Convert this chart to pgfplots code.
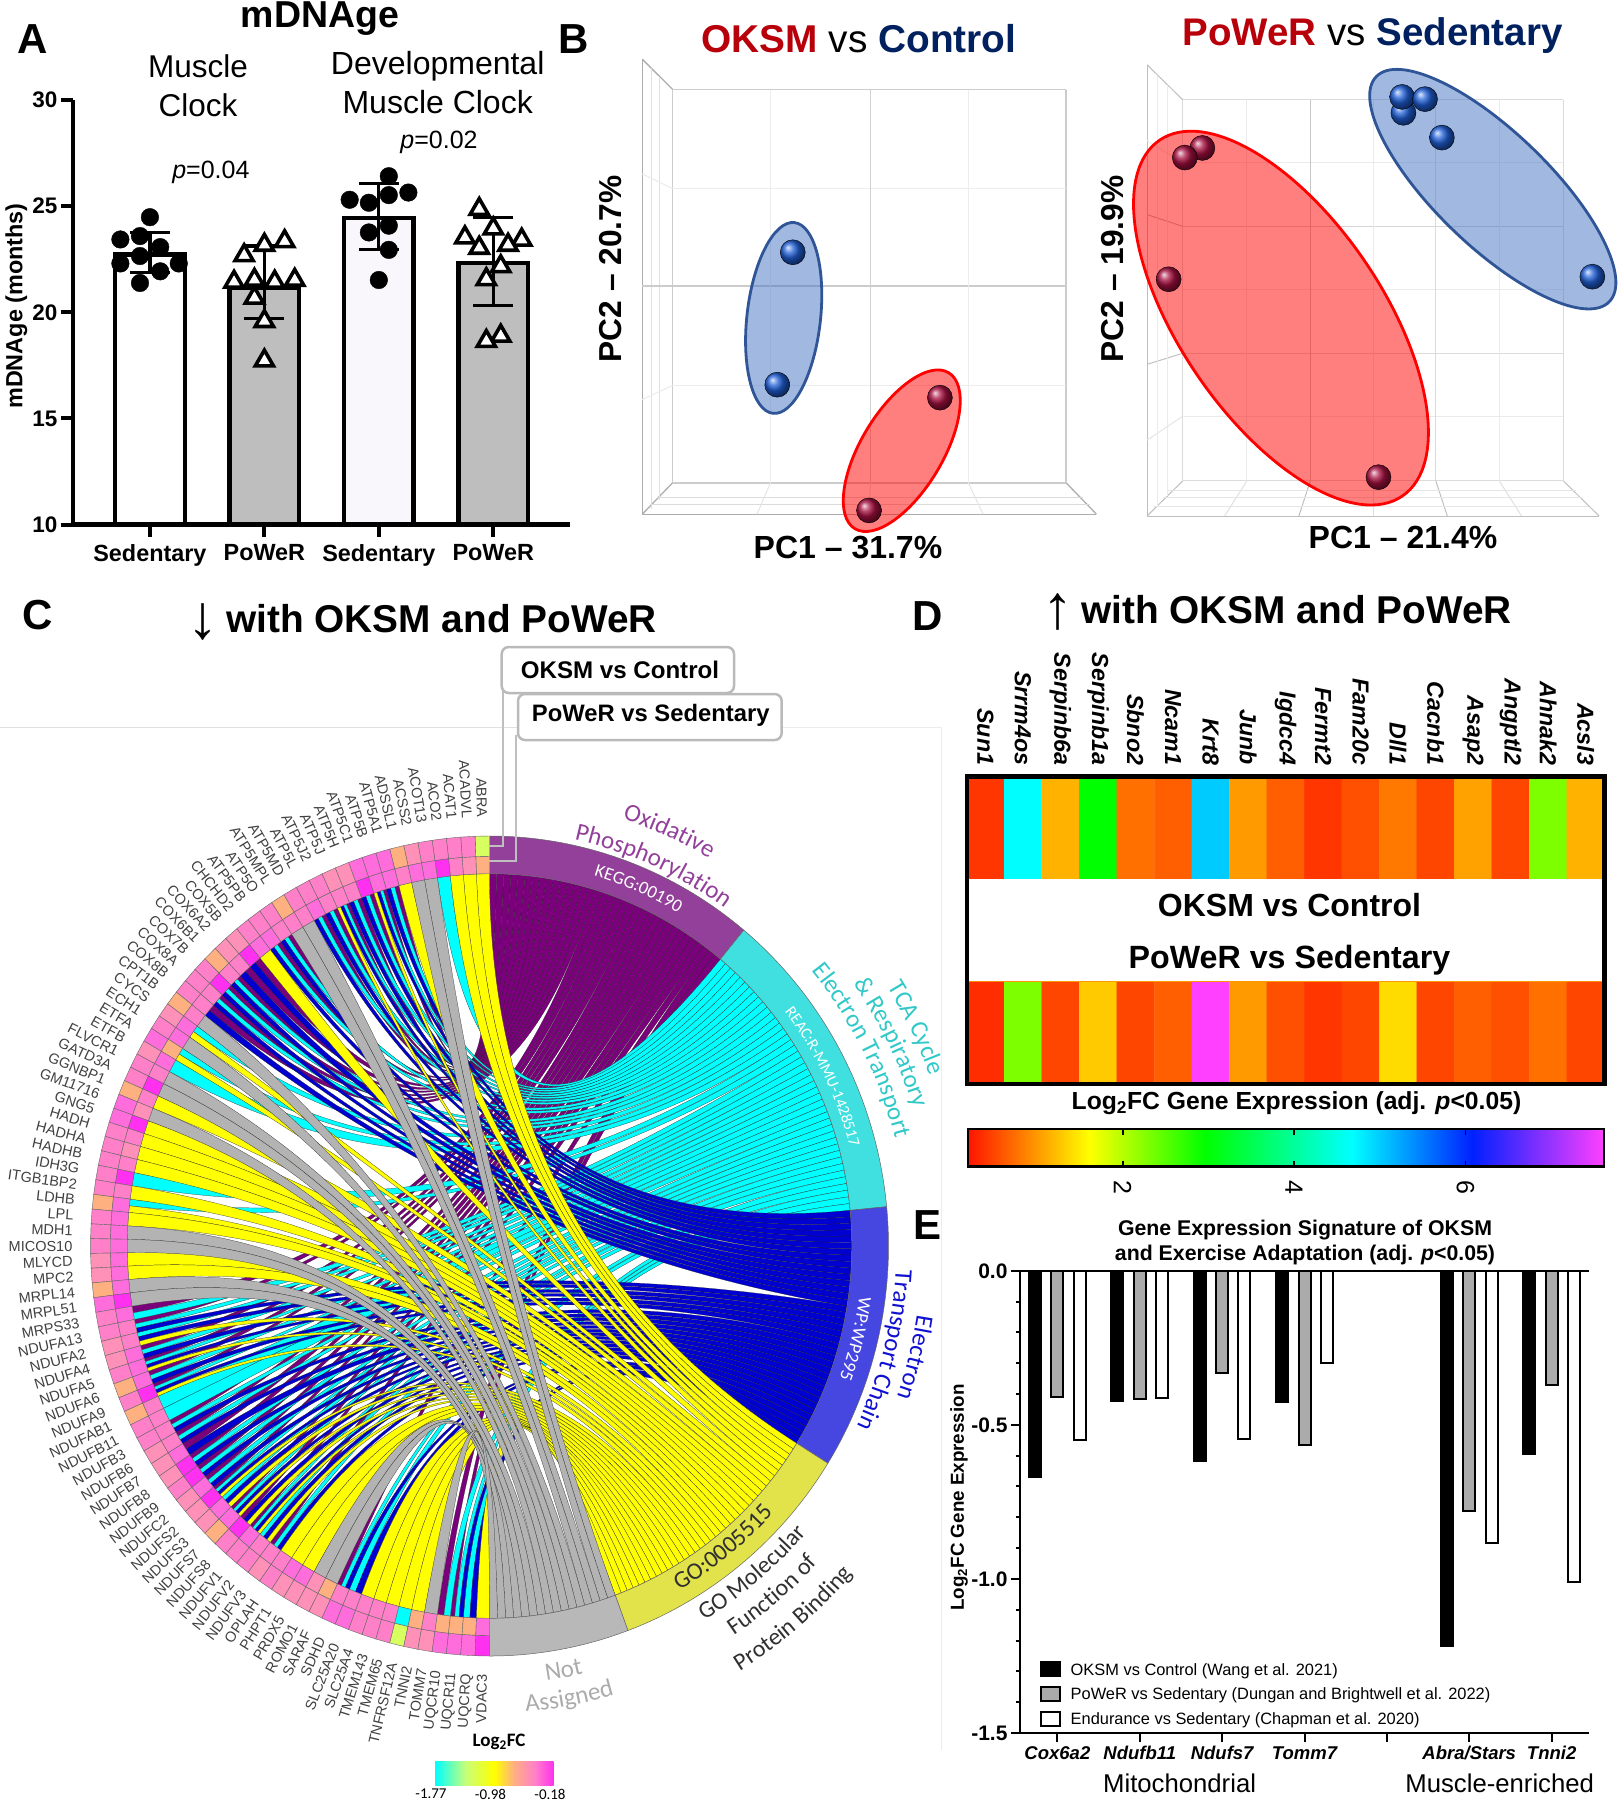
\documentclass[border=0pt]{standalone}
\usepackage{pgfplots}
\pgfplotsset{compat=1.18}
\usepackage{fontspec}
\usetikzlibrary{decorations.text,shadings,plotmarks}
\setmainfont{Liberation Sans}
\newfontfamily\calibri{Carlito}
\newcommand\fs[1]{\fontsize{#1}{#1}\selectfont}
% colours
\definecolor{cp}{HTML}{FF80C8}\definecolor{cs}{HTML}{FF90B8}\definecolor{co}{HTML}{FFB080}
\definecolor{cm}{HTML}{FF30F0}\definecolor{ch}{HTML}{FF6CDC}\definecolor{cy}{HTML}{D8FF60}\definecolor{cc}{HTML}{00FFFF}
\definecolor{ribO}{HTML}{7B007B}\definecolor{ribT}{HTML}{00FFFF}\definecolor{ribE}{HTML}{0000D0}\definecolor{ribG}{HTML}{FFFF00}\definecolor{ribN}{HTML}{B3B3B3}
\definecolor{secO}{HTML}{93409A}\definecolor{secT}{HTML}{40E0E0}\definecolor{secE}{HTML}{4646E0}\definecolor{secG}{HTML}{E2E24A}\definecolor{secN}{HTML}{B8B8B8}
\definecolor{txO}{HTML}{93409A}\definecolor{txT}{HTML}{30C8C8}\definecolor{txE}{HTML}{1010D0}\definecolor{txN}{HTML}{ABABAB}\definecolor{txG}{HTML}{303030}
\definecolor{redt}{HTML}{B8000A}\definecolor{navy}{HTML}{002060}
\definecolor{sphb}{HTML}{2060D8}\definecolor{sphr}{HTML}{A81040}
\definecolor{ellb}{HTML}{4472C4}\definecolor{ellbd}{HTML}{2F5597}
\definecolor{barg}{HTML}{BEBEBE}\definecolor{barv}{HTML}{F9F7FB}
\definecolor{rb0}{RGB}{255,20,0}\definecolor{rb1}{RGB}{255,255,0}\definecolor{rb2}{RGB}{0,255,0}\definecolor{rb3}{RGB}{0,255,255}\definecolor{rb4}{RGB}{0,32,255}\definecolor{rb5}{RGB}{255,64,255}
\pgfdeclarehorizontalshading{rbbar}{100bp}{color(0bp)=(rb0);color(25bp)=(rb0);color(34.53bp)=(rb1);color(43.64bp)=(rb2);color(55.2bp)=(rb3);color(64.66bp)=(rb4);color(75bp)=(rb5);color(100bp)=(rb5)}
\definecolor{lg1}{RGB}{255,255,0}\definecolor{lg2}{RGB}{255,176,128}\definecolor{lg3}{RGB}{255,128,200}\definecolor{lg4}{RGB}{200,255,120}
\pgfdeclarehorizontalshading{fcbar}{100bp}{color(0bp)=(cc);color(25bp)=(cc);color(38bp)=(lg4);color(50bp)=(lg1);color(58bp)=(lg2);color(67bp)=(lg3);color(75bp)=(cm);color(100bp)=(cm)}
\pgfplotsset{colormap={rb}{rgb255(0pt)=(255,20,0);rgb255(272pt)=(255,255,0);rgb255(532pt)=(0,255,0);rgb255(862pt)=(0,255,255);rgb255(1132pt)=(0,32,255);rgb255(1427pt)=(255,64,255)}}
% chord geometry
\def\cx{489.5}\def\cy{1246}\def\RX{362.3}\def\RY{372.3}\def\dd{2.06897}
\def\startO{0}\def\endO{39.6}\def\startT{39.6}\def\endT{84.5}\def\startE{84.5}\def\endE{122}\def\startG{122}\def\endG{159.7}\def\startN{159.7}\def\endN{180}
% gene / term membership / outer tile / inner tile
\def\genes{ABRA/G/y/o,ACADVL/G/p/s,ACAT1/G/p/p,ACO2/T/p/m,ACOT13/N/p/h,ACSS2/N/s/h,ADSSL1/G/o/p,
ATP5A1/{O,T,E}/h/h,ATP5B/{O,T,E,G}/h/h,ATP5C1/{O,T,E}/h/m,ATP5H/{O,T,E}/s/p,ATP5J/{O,T,E,G}/s/p,ATP5J2/{O,T,E}/p/p,ATP5L/{O,T,E}/p/h,
ATP5MD/N/p/p,ATP5MPL/N/o/p,ATP5O/{O,T,E}/p/p,ATP5PB/{O,T,E}/p/h,CHCHD2/G/p/h,COX5B/{O,E}/s/m,COX6A2/{O,E}/s/p,COX6B1/{O,T,E}/o/p,COX7B/{O,T,E}/p/m,COX8A/{O,T,E}/p/p,COX8B/{O,E}/p/p,
CPT1B/N/o/p,CYCS/{T,G}/s/h,ECH1/N/p/h,ETFA/{T,G}/h/o,ETFB/T/s/h,FLVCR1/N/p/p,GATD3A/N/p/m,GGNBP1/G/o/p,GM11716/N/h/s,GNG5/G/h/m,HADH/G/p/p,HADHA/G/p/s,HADHB/G/p/p,IDH3G/T/p/m,ITGB1BP2/G/p/p,LDHB/{T,G}/o/h,LPL/G/p/h,MDH1/N/p/h,MICOS10/N/p/h,MLYCD/G/s/h,MPC2/G/s/h,MRPL14/N/o/h,MRPL51/N/h/m,
MRPS33/{O,T}/p/h,NDUFA13/{O,T,E}/p/p,NDUFA2/{T,E,G}/s/p,NDUFA4/{O,T,E}/s/h,NDUFA5/{O,T,E,G}/p/h,NDUFA6/{O,T,E}/o/h,NDUFA9/{O,T,E,G}/p/m,NDUFAB1/T/o/p,NDUFB11/T/p/p,NDUFB3/{O,T,E}/p/p,NDUFB6/{O,T,E}/s/p,NDUFB7/{O,E}/s/h,NDUFB8/{O,T,E}/s/m,NDUFB9/{O,T,E}/p/m,NDUFC2/{O,T,E}/s/h,NDUFS2/{O,T,E,G}/s/m,NDUFS3/{T,E,G}/s/h,NDUFS7/{O,T,E,G}/o/h,NDUFS8/{O,E,G}/p/m,NDUFV1/{O,T,E,G}/p/h,NDUFV2/{T,E,G}/p/p,NDUFV3/{O,T,E}/s/p,
OPLAH/G/p/p,PHPT1/G/s/h,PRDX5/G/s/h,ROMO1/N/s/s,SARAF/N/s/o,SDHD/{O,T,E}/h/p,SLC25A20/{T,E}/h/p,SLC25A4/G/p/p,TMEM143/G/p/p,TMEM65/G/p/p,TNFRSF12A/G/y/c,TNNI2/G/s/o,TOMM7/N/s/p,UQCR10/{O,T}/h/o,UQCR11/{O,T,E}/h/o,UQCRQ/{T,E}/h/o,VDAC3/G/m/h}
\newcount\cntO\newcount\cntT\newcount\cntE\newcount\cntG\newcount\cntN
\newcount\posO\newcount\posT\newcount\posE\newcount\posG\newcount\posN
\newcount\gi\newcount\nn\newcount\kk
\let\rib\relax
\def\ribO{}\def\ribT{}\def\ribE{}\def\ribG{}\def\ribN{}
\foreach \g/\t/\a/\b in \genes {\foreach \x in \t {\global\advance\csname cnt\x\endcsname by 1\relax}}
\foreach \g/\t/\a/\b in \genes {%
  \global\advance\gi by 1\relax
  \global\nn=0\relax
  \foreach \x in \t {\global\advance\nn by 1\relax}%
  \global\kk=0\relax
  \foreach \x in \t {%
    \global\advance\kk by 1\relax
    \pgfmathsetmacro\aone{(\the\gi-1+(\the\kk-1)/\the\nn)*\dd}%
    \pgfmathsetmacro\atwo{(\the\gi-1+\the\kk/\the\nn)*\dd}%
    \edef\ss{\csname start\x\endcsname}\edef\ee{\csname end\x\endcsname}%
    \pgfmathsetmacro\bone{\ss+(\ee-\ss)*\the\csname pos\x\endcsname/\the\csname cnt\x\endcsname}%
    \global\advance\csname pos\x\endcsname by 1\relax
    \pgfmathsetmacro\btwo{\ss+(\ee-\ss)*\the\csname pos\x\endcsname/\the\csname cnt\x\endcsname}%
    \expandafter\xdef\csname rib\x\endcsname{\csname rib\x\endcsname\rib{\aone}{\atwo}{\bone}{\btwo}}%
  }%
}
\newcommand\ribdef{%
\def\rib##1##2##3##4{%
 \pgfmathsetmacro\xa{\cx-\RX*sin(##1)}\pgfmathsetmacro\ya{\cy-\RY*cos(##1)}%
 \pgfmathsetmacro\xb{\cx-\RX*sin(##2)}\pgfmathsetmacro\yb{\cy-\RY*cos(##2)}%
 \pgfmathsetmacro\xc{\cx+\RX*sin(##3)}\pgfmathsetmacro\yc{\cy-\RY*cos(##3)}%
 \pgfmathsetmacro\xd{\cx+\RX*sin(##4)}\pgfmathsetmacro\yd{\cy-\RY*cos(##4)}%
 \pgfmathsetmacro\xac{\cx+(\xa-\cx)/3}\pgfmathsetmacro\yac{\cy+(\ya-\cy)/3}%
 \pgfmathsetmacro\xbc{\cx+(\xb-\cx)/3}\pgfmathsetmacro\ybc{\cy+(\yb-\cy)/3}%
 \pgfmathsetmacro\xcc{\cx+(\xc-\cx)/3}\pgfmathsetmacro\ycc{\cy+(\yc-\cy)/3}%
 \pgfmathsetmacro\xdc{\cx+(\xd-\cx)/3}\pgfmathsetmacro\ydc{\cy+(\yd-\cy)/3}%
 \edef\tmp{\noexpand\path[fill=\ribcol,draw=black!85,line width=.22pt] (axis cs:\xa,\ya) .. controls (axis cs:\xac,\yac) and (axis cs:\xcc,\ycc) .. (axis cs:\xc,\yc) -- (axis cs:\xd,\yd) .. controls (axis cs:\xdc,\ydc) and (axis cs:\xbc,\ybc) .. (axis cs:\xb,\yb) -- cycle;}\tmp}}
\newcommand\tile[5]{%
 \pgfmathsetmacro\xa{\cx-399*#3*sin(#1)}\pgfmathsetmacro\ya{\cy-410*#3*cos(#1)}%
 \pgfmathsetmacro\xb{\cx-399*#3*sin(#2)}\pgfmathsetmacro\yb{\cy-410*#3*cos(#2)}%
 \pgfmathsetmacro\xc{\cx-399*#4*sin(#2)}\pgfmathsetmacro\yc{\cy-410*#4*cos(#2)}%
 \pgfmathsetmacro\xd{\cx-399*#4*sin(#1)}\pgfmathsetmacro\yd{\cy-410*#4*cos(#1)}%
 \edef\tmp{\noexpand\path[fill=#5,draw=black!60,line width=.4pt] (axis cs:\xa,\ya) -- (axis cs:\xb,\yb) -- (axis cs:\xc,\yc) -- (axis cs:\xd,\yd) -- cycle;}\tmp}
\newcommand\sector[3]{%
 \pgfmathsetmacro\xa{\cx+399*sin(#1)}\pgfmathsetmacro\ya{\cy-410*cos(#1)}%
 \pgfmathsetmacro\xb{\cx+\RX*sin(#2)}\pgfmathsetmacro\yb{\cy-\RY*cos(#2)}%
 \pgfmathsetmacro\sa{90-#1}\pgfmathsetmacro\sb{90-#2}%
 \edef\tmp{\noexpand\path[fill=#3,draw=black!60,line width=.5pt] (axis cs:\xa,\ya) arc[start angle=\sa,end angle=\sb,x radius=399pt,y radius=410pt] -- (axis cs:\xb,\yb) arc[start angle=\sb,end angle=\sa,x radius=\RX pt,y radius=\RY pt] -- cycle;}\tmp}
% text on arcs: #1 theta, #2 r, #3 size, #4 colour, #5 text
\newcommand\cwtext[5]{%
 \pgfmathsetmacro\th{#1-55}\pgfmathsetmacro\xa{\cx+399*#2*sin(\th)}\pgfmathsetmacro\ya{\cy-410*#2*cos(\th)}%
 \pgfmathsetmacro\sa{90-#1+55}\pgfmathsetmacro\sb{90-#1-55}\pgfmathsetmacro\rx{399*#2}\pgfmathsetmacro\ry{410*#2}%
 \edef\tmp{\noexpand\path[decorate,decoration={text along path,text align=center,text color=#4,text={\unexpanded{|\calibri\fontsize{#3}{#3}\selectfont|#5}}}] (axis cs:\xa,\ya) arc[start angle=\sa,end angle=\sb,x radius=\rx pt,y radius=\ry pt];}\tmp}
\newcommand\ccwtext[5]{%
 \pgfmathsetmacro\th{#1+30}\pgfmathsetmacro\xa{\cx+399*#2*sin(\th)}\pgfmathsetmacro\ya{\cy-410*#2*cos(\th)}%
 \pgfmathsetmacro\sa{90-#1-30}\pgfmathsetmacro\sb{90-#1+30}\pgfmathsetmacro\rx{399*#2}\pgfmathsetmacro\ry{410*#2}%
 \edef\tmp{\noexpand\path[decorate,decoration={text along path,text align=center,text color=#4,text={\unexpanded{|\calibri\fontsize{#3}{#3}\selectfont|#5}}}] (axis cs:\xa,\ya) arc[start angle=\sa,end angle=\sb,x radius=\rx pt,y radius=\ry pt];}\tmp}
\newcommand\seg[5]{\addplot[#1,forget plot] coordinates {(#2,#3)(#4,#5)};}
\begin{document}
\begin{tikzpicture}[x=1pt,y=1pt]
\path[use as bounding box] (0,0) rectangle (1618pt,1800pt);
% ---------- A
\begin{axis}[at={(73pt,1275.4pt)},anchor=south west,width=497pt,height=424.6pt,scale only axis,
 xmin=-0.672,xmax=3.67,ymin=10,ymax=30,axis x line*=bottom,axis y line*=left,
 axis line style={line width=4.4pt,-},tick style={black,line width=4pt},major tick length=12pt,tick align=outside,
 xtick={0,1,2,3},xticklabels={Sedentary,PoWeR,Sedentary,PoWeR},ytick={10,15,20,25,30},yticklabels={10,15,20,25,30},
 x tick label style={font=\fs{23.4}\bfseries},y tick label style={font=\fs{22.5}\bfseries},xticklabel shift=4pt]
\pgfplotsset{/pgfplots/error bars/error bar style={line width=3.2pt,black},/pgfplots/error bars/error mark options={rotate=90,mark size=20pt,line width=3.2pt,black}}
\addplot[ybar,bar width=69.6pt,bar shift=0pt,fill=white,draw=black,line width=4.4pt,error bars/.cd,y dir=both,y explicit] coordinates {(0,22.73) +=(0,1.03) -=(0,0.87)};
\addplot[ybar,bar width=69.6pt,bar shift=0pt,fill=barg,draw=black,line width=4.4pt,error bars/.cd,y dir=both,y explicit] coordinates {(1,21.15) +=(0,1.97) -=(0,1.43)};
\addplot[ybar,bar width=69.6pt,bar shift=0pt,fill=barv,draw=black,line width=4.4pt,error bars/.cd,y dir=both,y explicit] coordinates {(2,24.43) +=(0,1.62) -=(0,1.49)};
\addplot[ybar,bar width=69.6pt,bar shift=0pt,fill=barg,draw=black,line width=4.4pt,error bars/.cd,y dir=both,y explicit] coordinates {(3,22.33) +=(0,2.15) -=(0,2.02)};
\addplot[only marks,mark=*,mark size=8.8pt,black] coordinates {(0,24.48)(-0.258,23.43)(-0.087,23.59)(0.09,23.07)(-0.087,22.65)(-0.258,22.30)(0.252,22.30)(0.09,21.93)(-0.087,21.38)};
\addplot[only marks,mark=triangle*,mark size=10.5pt,mark options={fill=white,draw=black,line width=3.6pt}] coordinates {(1.177,23.34)(1,23.17)(0.823,22.68)(0.735,21.43)(0.913,21.52)(1.09,21.43)(1.265,21.52)(0.913,20.68)(1,19.58)(1,17.72)};
\addplot[only marks,mark=*,mark size=8.8pt,black] coordinates {(2.087,26.41)(2.258,25.64)(2.087,25.52)(1.745,25.30)(1.913,25.16)(2.087,24.08)(1.913,23.76)(2.087,22.94)(2,21.52)};
\addplot[only marks,mark=triangle*,mark size=10.5pt,mark options={fill=white,draw=black,line width=3.6pt}] coordinates {(2.877,24.86)(3,23.94)(2.752,23.52)(3.248,23.41)(2.877,23.03)(3.129,23.17)(3.065,22.16)(2.939,21.55)(3.065,18.89)(2.939,18.64)};
\end{axis}
% ---------- B grids and ellipses (coordinates of a 1568 x 1568 frame on the crop)
\begin{axis}[at={(560pt,1220pt)},anchor=south west,width=1058pt,height=580pt,scale only axis,xmin=0,xmax=1568,ymin=0,ymax=1568,y dir=reverse,hide axis,clip=false]
\seg{black!32,line width=1.3pt}{122}{160}{122}{1390}\seg{black!32,line width=1.3pt}{122}{160}{167}{242}
\seg{black!32,line width=1.3pt}{122}{1390}{795}{1390}\seg{black!32,line width=1.3pt}{122}{1390}{167}{1305}\seg{black!32,line width=1.3pt}{750}{1305}{795}{1390}
\seg{black!20,line width=1.6pt}{167}{242}{750}{242}\seg{black!20,line width=1.6pt}{750}{242}{750}{1305}\seg{black!20,line width=1.6pt}{167}{1305}{750}{1305}\seg{black!20,line width=1.6pt}{167}{242}{167}{1305}
\seg{black!12,line width=1pt}{135}{185}{135}{1375}\seg{black!12,line width=1pt}{148}{210}{148}{1352}
\seg{black!7,line width=1.2pt}{167}{510}{750}{510}\seg{black!7,line width=1.2pt}{122}{470}{167}{510}
\seg{black!20,line width=2pt}{122}{772}{750}{772}
\seg{black!7,line width=1.2pt}{167}{1042}{750}{1042}\seg{black!7,line width=1.2pt}{122}{1080}{167}{1042}
\seg{black!7,line width=1pt}{312}{242}{312}{1305}\seg{black!18,line width=1pt}{460}{242}{460}{1305}\seg{black!7,line width=1pt}{605}{242}{605}{1305}
\seg{black!14,line width=1pt}{145}{1345}{775}{1345}\seg{black!14,line width=1pt}{135}{1365}{785}{1365}
\seg{black!10,line width=1pt}{312}{1305}{292}{1390}\seg{black!10,line width=1pt}{460}{1305}{458}{1390}\seg{black!10,line width=1pt}{605}{1305}{627}{1390}
\seg{black!25,line width=1pt}{870}{175}{870}{1395}\seg{black!25,line width=1pt}{870}{175}{923}{270}
\seg{black!25,line width=1pt}{870}{1395}{1540}{1395}\seg{black!25,line width=1pt}{870}{1395}{923}{1300}\seg{black!25,line width=1pt}{1487}{1300}{1540}{1395}
\seg{black!14,line width=1.2pt}{923}{270}{1487}{270}\seg{black!14,line width=1.2pt}{1487}{270}{1487}{1300}\seg{black!14,line width=1.2pt}{923}{1300}{1487}{1300}\seg{black!14,line width=1.2pt}{923}{270}{923}{1300}
\seg{black!8,line width=1pt}{923}{440}{1487}{440}\seg{black!8,line width=1pt}{870}{380}{923}{440}
\seg{black!16,line width=1pt}{923}{612}{1487}{612}\seg{black!25,line width=1pt}{870}{580}{923}{612}
\seg{black!8,line width=1pt}{923}{783}{1487}{783}
\seg{black!14,line width=1pt}{923}{955}{1487}{955}\seg{black!25,line width=1pt}{870}{985}{923}{955}
\seg{black!8,line width=1pt}{923}{1125}{1487}{1125}\seg{black!10,line width=1pt}{870}{1190}{923}{1125}
\seg{black!8,line width=1pt}{1018}{270}{1018}{1300}\seg{black!22,line width=1pt}{1112}{270}{1112}{1300}\seg{black!8,line width=1pt}{1205}{270}{1205}{1300}\seg{black!14,line width=1pt}{1298}{270}{1298}{1300}\seg{black!8,line width=1pt}{1392}{270}{1392}{1300}
\seg{black!12,line width=1pt}{1018}{1300}{985}{1395}\seg{black!25,line width=1pt}{1112}{1300}{1095}{1395}\seg{black!12,line width=1pt}{1205}{1300}{1205}{1395}\seg{black!25,line width=1pt}{1298}{1300}{1315}{1395}\seg{black!12,line width=1pt}{1392}{1300}{1425}{1395}
\seg{black!10,line width=1pt}{900}{1325}{1505}{1325}\seg{black!10,line width=1pt}{893}{1345}{1515}{1345}\seg{black!10,line width=1pt}{880}{1370}{1525}{1370}
\seg{black!8,line width=1pt}{885}{205}{885}{1370}\seg{black!8,line width=1pt}{900}{230}{900}{1340}
\path[fill=ellb,fill opacity=.5,draw=none] (axis cs:331.5,859.6) circle[x radius=36.8pt,y radius=96pt,rotate=-6.4];
\draw[draw=ellbd,line width=2.8pt] (axis cs:331.5,859.6) circle[x radius=36.8pt,y radius=96pt,rotate=-6.4];
\path[fill=red,fill opacity=.5] (axis cs:506.5,1218.5) circle[x radius=40.8pt,y radius=91pt,rotate=-31];
\draw[draw=red,line width=2.8pt] (axis cs:506.5,1218.5) circle[x radius=40.8pt,y radius=91pt,rotate=-31];
\path[fill=red,fill opacity=.5] (axis cs:1068.5,860) circle[x radius=101.3pt,y radius=215.4pt,rotate=34.3];
\draw[draw=red,line width=2.8pt] (axis cs:1068.5,860) circle[x radius=101.3pt,y radius=215.4pt,rotate=34.3];
\path[fill=ellb,fill opacity=.5] (axis cs:1382.4,511.4) circle[x radius=57pt,y radius=162pt,rotate=46];
\draw[draw=ellbd,line width=2.8pt] (axis cs:1382.4,511.4) circle[x radius=57pt,y radius=162pt,rotate=46];
\end{axis}
\begin{axis}[at={(560pt,1220pt)},anchor=south west,width=1058pt,height=580pt,scale only axis,xmin=0,xmax=1568,ymin=0,ymax=1568,y dir=reverse,hide axis,clip=false]
\addplot[only marks,mark=ball,mark size=12.5pt,mark options={ball color=sphb,draw=none}] coordinates {(345,682)(322,1040)(1250,305)(1248,262)(1282,268)(1307,372)(1530,748)};
\addplot[only marks,mark=ball,mark size=12.5pt,mark options={ball color=sphr,draw=none}] coordinates {(563,1075)(458,1380)(952,400)(926,426)(902,755)(1213,1290)};
\end{axis}
% ---------- C chord diagram
\begin{axis}[at={(0pt,0pt)},anchor=south west,width=1618pt,height=1800pt,scale only axis,xmin=0,xmax=1618,ymin=0,ymax=1800,y dir=reverse,hide axis,clip=false]
\ribdef
\def\ribcol{ribO}\ribO
\def\ribcol{ribT}\ribT
\def\ribcol{ribE}\ribE
\def\ribcol{ribG}\ribG
\def\ribcol{ribN}\ribN
\sector{0}{39.6}{secO}\sector{39.6}{84.5}{secT}\sector{84.5}{122}{secE}\sector{122}{159.7}{secG}\sector{159.7}{180}{secN}
\foreach \g/\t/\a/\b [count=\i] in \genes {%
 \pgfmathsetmacro\aL{(\i-1)*\dd}\pgfmathsetmacro\aR{\i*\dd}\pgfmathsetmacro\aM{(\i-.5)*\dd}%
 \tile{\aL}{\aR}{1}{.95}{c\a}%
 \tile{\aL}{\aR}{.95}{.908}{c\b}%
 \pgfmathsetmacro\lx{\cx-399*1.045*sin(\aM)}\pgfmathsetmacro\ly{\cy-410*1.045*cos(\aM)}\pgfmathsetmacro\lr{\aM-90}%
 \edef\tmp{\noexpand\node[rotate=\lr,anchor=east,inner sep=0pt,text=black!75,font=\noexpand\fs{14.5}] at (axis cs:\lx,\ly) {\g};}\tmp
}
\cwtext{23.6}{1.094}{25}{txO}{Oxidative}
\cwtext{23.5}{1.013}{25}{txO}{Phosphorylation}
\cwtext{22.8}{.94}{18.2}{white}{KEGG:00190}
\cwtext{63.1}{1.18}{25}{txT}{TCA Cycle}
\cwtext{63.3}{1.115}{25}{txT}{{\&} Respiratory}
\cwtext{62.5}{1.05}{25}{txT}{Electron Transport}
\cwtext{63.3}{.935}{16}{white}{REAC:R-MMU-1428517}
\cwtext{104.6}{1.085}{25}{txE}{Electron}
\cwtext{104.6}{1.02}{25}{txE}{Transport Chain}
\cwtext{104.1}{.935}{18.5}{white}{WP:WP295}
\ccwtext{141.6}{.965}{24}{txG}{GO:0005515}
\ccwtext{140.6}{1.06}{24}{txG}{GO Molecular}
\ccwtext{140.4}{1.13}{24}{txG}{Function of}
\ccwtext{140.2}{1.212}{24}{txG}{Protein Binding}
\ccwtext{169.9}{1.07}{25}{txN}{Not}
\ccwtext{169.8}{1.14}{25}{txN}{Assigned}
\end{axis}
% ---------- D heat map
\begin{axis}[at={(966.7pt,716.2pt)},anchor=south west,width=637.7pt,height=307.1pt,scale only axis,xmin=-.5,xmax=16.5,ymin=-.5,ymax=2.5,
 colormap name=rb,point meta min=0.197,point meta max=7.61,axis line style={line width=4.4pt},axis on top,
 ytick=\empty,xtick={0,...,16},xticklabel pos=upper,major tick length=0pt,xticklabel shift=8pt,
 xticklabels={Sun1,Srrm4os,Serpinb6a,Serpinb1a,Sbno2,Ncam1,Krt8,Junb,Igdcc4,Fermt2,Fam20c,Dll1,Cacnb1,Asap2,Angptl2,Ahnak2,Acsl3},
 x tick label style={rotate=-90,anchor=east,font=\fs{23.2}\bfseries\itshape}]
\addplot[matrix plot*,mesh/cols=17,point meta=explicit] coordinates {
(0,0)[.35](1,0)[2.3](2,0)[.5](3,0)[1.3](4,0)[.5](5,0)[.65](6,0)[7.61](7,0)[1.0](8,0)[.55](9,0)[.4](10,0)[.5](11,0)[1.4](12,0)[.5](13,0)[.65](14,0)[.55](15,0)[.75](16,0)[.5]
(0,1)[1](1,1)[1](2,1)[1](3,1)[1](4,1)[1](5,1)[1](6,1)[1](7,1)[1](8,1)[1](9,1)[1](10,1)[1](11,1)[1](12,1)[1](13,1)[1](14,1)[1](15,1)[1](16,1)[1]
(0,2)[.4](1,2)[4.68](2,2)[1.15](3,2)[2.96](4,2)[.75](5,2)[.65](6,2)[5.0](7,2)[1.0](8,2)[.65](9,2)[.4](10,2)[.55](11,2)[.8](12,2)[.5](13,2)[1.05](14,2)[.5](15,2)[2.3](16,2)[1.15]};
\path[fill=white] (axis cs:-.5,.5) rectangle (axis cs:16.5,1.5);
\end{axis}
% ---------- E bars
\begin{axis}[at={(1020pt,67pt)},anchor=south west,width=569pt,height=462.2pt,scale only axis,
 xmin=-.454,xmax=6.454,ymin=-1.5,ymax=0,axis x line*=bottom,axis y line*=left,axis line style={line width=2.5pt,-},
 tick style={black,line width=2pt},major tick length=9pt,minor tick length=4.5pt,tick align=outside,minor y tick num=4,
 xtick={0,1,2,3,4,5,6},xticklabels={Cox6a2,Ndufb11,Ndufs7,Tomm7,{},Abra/Stars,Tnni2},
 ytick={0,-.5,-1,-1.5},yticklabels={0.0,-0.5,-1.0,-1.5},xticklabel shift=1pt,
 x tick label style={font=\fs{18.5}\bfseries\itshape},y tick label style={font=\fs{21}\bfseries}]
\addplot[ybar,bar width=12pt,bar shift=-22.3pt,fill=black,draw=black,line width=2pt] coordinates {(0,-.67)(1,-.423)(2,-.618)(3,-.426)(5,-1.217)(6,-.596)};
\addplot[ybar,bar width=12pt,bar shift=0pt,fill=black!33,draw=black,line width=2pt] coordinates {(0,-.41)(1,-.416)(2,-.333)(3,-.565)(5,-.78)(6,-.37)};
\addplot[ybar,bar width=12pt,bar shift=22.3pt,fill=white,draw=black,line width=2pt] coordinates {(0,-.55)(1,-.412)(2,-.545)(3,-.298)(5,-.884)(6,-1.01)};
\addplot[black,line width=2.5pt] coordinates {(-.454,0)(6.454,0)};
\end{axis}
% ---------- overlay: all text and remaining lines
\begin{axis}[at={(0pt,0pt)},anchor=south west,width=1618pt,height=1800pt,scale only axis,xmin=0,xmax=1618,ymin=0,ymax=1800,y dir=reverse,hide axis,clip=false]
\tikzset{every node/.append style={inner sep=0pt}}
% panel letters
\node[font=\fs{42}\bfseries] at (axis cs:33,39) {A};
\node[font=\fs{42}\bfseries] at (axis cs:574,39) {B};
\node[font=\fs{42}\bfseries] at (axis cs:38,615) {C};
\node[font=\fs{42}\bfseries] at (axis cs:928,616) {D};
\node[font=\fs{42}\bfseries] at (axis cs:927,1225) {E};
% A text
\node[font=\fs{37.5}\bfseries] at (axis cs:320,19) {mDNAge};
\node[font=\fs{31.5}] at (axis cs:198,66.6) {Muscle};
\node[font=\fs{31.5}] at (axis cs:198,105.4) {Clock};
\node[font=\fs{32}] at (axis cs:437.7,66.5) {Developmental};
\node[font=\fs{32}] at (axis cs:437.7,102) {Muscle Clock};
\node[font=\fs{25}] at (axis cs:210.9,172) {\textit{p}=0.04};
\node[font=\fs{25}] at (axis cs:439,142.5) {\textit{p}=0.02};
\node[font=\fs{23.4}\bfseries,rotate=90] at (axis cs:16.5,306) {mDNAge (months)};
% B text
\node[font=\fs{38.8}] at (axis cs:859,38.5) {\textcolor{redt}{\bfseries OKSM} vs \textcolor{navy}{\bfseries Control}};
\node[font=\fs{38.5}] at (axis cs:1372.5,36) {\textcolor{redt}{\bfseries PoWeR} vs \textcolor{navy}{\bfseries Sedentary}};
\node[font=\fs{31.7}\bfseries,rotate=90] at (axis cs:610.6,269) {PC2 -- 20.7\%};
\node[font=\fs{31.7}\bfseries,rotate=90] at (axis cs:1113,269) {PC2 -- 19.9\%};
\node[font=\fs{32}\bfseries] at (axis cs:848,547) {PC1 -- 31.7\%};
\node[font=\fs{32}\bfseries] at (axis cs:1403,537) {PC1 -- 21.4\%};
% C boxes and lines
\draw[black!12,line width=1.2pt] (axis cs:0,727.5) -- (axis cs:520,727.5);
\draw[black!7,line width=1pt] (axis cs:781,727.5) -- (axis cs:941,727.5) -- (axis cs:941,1750);
\draw[black!25,line width=2pt] (axis cs:503.3,690) -- (axis cs:503.3,846) -- (axis cs:489,846);
\draw[black!25,line width=2pt] (axis cs:516,735) -- (axis cs:516,861.4) -- (axis cs:489,861.4);
\draw[black!27,line width=2.5pt,fill=white,rounded corners=7pt] (axis cs:501.7,647) rectangle (axis cs:734,693);
\draw[black!27,line width=2.5pt,fill=white,rounded corners=7pt] (axis cs:518,694) rectangle (axis cs:781.7,740);
\node[font=\fs{24.1}\bfseries] at (axis cs:620,669.5) {OKSM vs Control};
\node[font=\fs{23.8}\bfseries] at (axis cs:650.7,715) {PoWeR vs Sedentary};
\node[font=\fs{62}] at (axis cs:203,622) {↓};
\node[font=\fs{38.8}\bfseries,anchor=west] at (axis cs:226,619) {with OKSM and PoWeR};
\node[font=\calibri\fs{19}\bfseries] at (axis cs:499,1742) {Log\textsubscript{2}FC};
\shade[shading=fcbar] (axis cs:435,1761) rectangle (axis cs:553.7,1785);
\node[font=\calibri\fs{15}] at (axis cs:431,1794) {-1.77};
\node[font=\calibri\fs{15}] at (axis cs:490.5,1794) {-0.98};
\node[font=\calibri\fs{15}] at (axis cs:550,1794) {-0.18};
% D text
\node[font=\fs{62}] at (axis cs:1058,612) {↑};
\node[font=\fs{38.8}\bfseries,anchor=west] at (axis cs:1081,610) {with OKSM and PoWeR};
\node[font=\fs{32}\bfseries] at (axis cs:1289.5,905) {OKSM vs Control};
\node[font=\fs{32.2}\bfseries] at (axis cs:1289.5,960.5) {PoWeR vs Sedentary};
\node[font=\fs{24.7}\bfseries] at (axis cs:1296.5,1103) {Log\textsubscript{2}FC Gene Expression (adj. \textit{p}<0.05)};
\shade[shading=rbbar] (axis cs:968,1129) rectangle (axis cs:1604,1166.5);
\draw[black,line width=2.5pt] (axis cs:968,1129) rectangle (axis cs:1604,1166.5);
\foreach \q in {1122.6,1294,1465.4} {\edef\tmp{\noexpand\draw[black,line width=1.8pt] (axis cs:\q,1129) -- (axis cs:\q,1135); \noexpand\draw[black,line width=1.8pt] (axis cs:\q,1160.5) -- (axis cs:\q,1166.5);}\tmp}
\node[font=\fs{25},rotate=-90] at (axis cs:1122.6,1187.5) {2};
\node[font=\fs{25},rotate=-90] at (axis cs:1294,1187.5) {4};
\node[font=\fs{25},rotate=-90] at (axis cs:1465.4,1187.5) {6};
% E text
\node[font=\fs{21.3}\bfseries] at (axis cs:1305,1230) {Gene Expression Signature of OKSM};
\node[font=\fs{21.3}\bfseries] at (axis cs:1305,1255) {and Exercise Adaptation (adj. \textit{p}<0.05)};
\node[font=\fs{18.8}\bfseries,rotate=90] at (axis cs:959,1497.5) {Log\textsubscript{2}FC Gene Expression};
\draw[fill=black,draw=black,line width=2pt] (axis cs:1041,1662) rectangle (axis cs:1060,1676);
\draw[fill=black!33,draw=black,line width=2pt] (axis cs:1041,1687) rectangle (axis cs:1060,1701);
\draw[fill=white,draw=black,line width=2pt] (axis cs:1041,1712) rectangle (axis cs:1060,1726);
\node[font=\fs{16.4},anchor=west] at (axis cs:1070.5,1671) {OKSM vs Control (Wang et al. 2021)};
\node[font=\fs{16.4},anchor=west] at (axis cs:1070.5,1695.5) {PoWeR vs Sedentary (Dungan and Brightwell et al. 2022)};
\node[font=\fs{16.4},anchor=west] at (axis cs:1070.5,1720) {Endurance vs Sedentary (Chapman et al. 2020)};
\node[font=\fs{25.7}] at (axis cs:1179.6,1783) {Mitochondrial};
\node[font=\fs{25.7}] at (axis cs:1499.7,1783) {Muscle-enriched};
\end{axis}
\end{tikzpicture}
\end{document}
